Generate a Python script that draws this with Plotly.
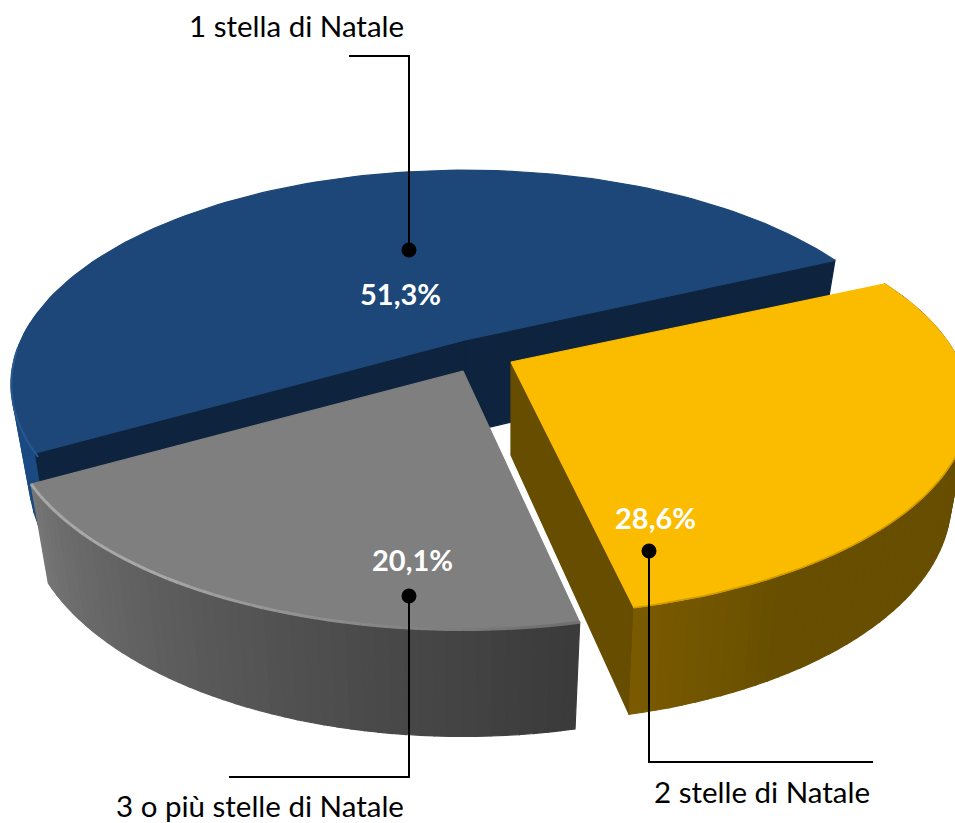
import math
import plotly.graph_objects as go

categories = ["1 stella di Natale", "2 stelle di Natale", "3 o più stelle di Natale"]
values = [51.3, 28.6, 20.1]
value_labels = ["51,3%", "28,6%", "20,1%"]

FONT = "Lato, Carlito, sans-serif"
R, RK, P, H, Q = 453.0, 205.0, 0.207, 93.0, 0.96
START = 65.0
# apex x, apex y, horizontal scale, vertical scale of each exploded slice
VIEW = {"blue": (465, 340, 0.98, 1.0), "yellow": (511, 362, 0.99, 0.98), "grey": (463, 371, 0.985, 1.0)}


def top(ap, t):
    u, v = math.sin(math.radians(t)), -math.cos(math.radians(t))
    s = 1 / (1 - P * v)
    return ap[0] + R * ap[2] * u * s, ap[1] + RK * ap[3] * v * s


def bot(ap, t):
    u, v = math.sin(math.radians(t)), -math.cos(math.radians(t))
    s = 1 / (1 - P * v)
    return ap[0] + R * ap[2] * u * s * Q, ap[1] + RK * ap[3] * v * s * Q + H * s


def apex_bot(ap):
    return ap[0], ap[1] + H


def arange(a, b, step=1.5):
    n = max(2, int(abs(b - a) / step) + 1)
    return [a + (b - a) * i / (n - 1) for i in range(n)]


def mix(c1, c2, f):
    f = max(0.0, min(1.0, f))
    return "rgb(%d,%d,%d)" % tuple(round(x + (y - x) * f) for x, y in zip(c1, c2))


fig = go.Figure()


def poly(pts, color, line=1.2, name=None):
    xs = [p[0] for p in pts] + [pts[0][0]]
    ys = [p[1] for p in pts] + [pts[0][1]]
    fig.add_trace(go.Scatter(x=xs, y=ys, mode="lines", fill="toself", fillcolor=color,
                             line=dict(color=color, width=line), hoverinfo="skip",
                             name=name or "", showlegend=False))


def path(pts, color, width):
    fig.add_trace(go.Scatter(x=[p[0] for p in pts], y=[p[1] for p in pts], mode="lines",
                             line=dict(color=color, width=width), hoverinfo="skip", showlegend=False))


total = sum(values)
sweep = [v / total * 360 for v in values]
a0 = START                 # blue ends here going counter-clockwise
a1 = a0 + sweep[1]         # yellow a0..a1
a2 = a1 + sweep[2]         # grey a1..a2
a3 = a0 + 360              # blue a2..a3

# ---- blue slice
ap = VIEW["blue"]
ts = arange(a2, 275, 3)
for t0, t1 in zip(ts[:-1], ts[1:]):
    poly([top(ap, t0), top(ap, t1), bot(ap, t1), bot(ap, t0)], "#1b4a82")
poly([ap, top(ap, a0), bot(ap, a0), apex_bot(ap)], "#0e243e")
poly([ap, top(ap, a2), bot(ap, a2), apex_bot(ap)], "#0e243e")
poly([ap] + [top(ap, t) for t in arange(a2, a3)], "#1d4778", name=categories[0])
path([top(ap, t) for t in arange(a2 - 1, 268)], "#285890", 2)

# ---- grey slice
ap = VIEW["grey"]
ts = arange(a2, a1, 1.5)
for t0, t1 in zip(ts[:-1], ts[1:]):
    f = (a2 - t0) / (a2 - a1)
    c = mix((0x76, 0x76, 0x76), (0x3a, 0x3a, 0x3a), f ** 0.85)
    poly([top(ap, t0), top(ap, t1), bot(ap, t1), bot(ap, t0)], c)
poly([ap] + [top(ap, t) for t in arange(a1, a2)], "#7f7f7f", name=categories[2])
for t0, t1 in zip(ts[:-1], ts[1:]):
    f = (a2 - t0) / (a2 - a1)
    path([top(ap, t0), top(ap, t1)], mix((0xa8, 0xa8, 0xa8), (0x70, 0x70, 0x70), (f - 0.35) / 0.6), 3)

# ---- yellow slice
ap = VIEW["yellow"]
a1y = a1 - 0.6  # slight fit of the perspective at the front corner
poly([ap, top(ap, a1y), bot(ap, a1y), apex_bot(ap)], "#664d00")
ts = arange(a1y, a0, 1.5)
for t0, t1 in zip(ts[:-1], ts[1:]):
    f = (a1y - t0) / (a1y - a0)
    poly([top(ap, t0), top(ap, t1), bot(ap, t1), bot(ap, t0)], mix((0x7a, 0x5a, 0x00), (0x67, 0x4e, 0x00), f * 6))
poly([ap] + [top(ap, t) for t in arange(a0, a1y)], "#fbbc00", name=categories[1])
path([top(ap, t) for t in arange(a0 + 25, a1y)], "#cf9a00", 1.5)

# ---- leader lines and dots
LC = "#000000"
leaders = [
    "M349,56 L409,56 L409,250",
    "M649,551 L649,762 L873,762",
    "M409,596 L409,777 L229,777",
]
dots = [(409, 250), (649, 551), (409, 596)]
shapes = [dict(type="path", path=p, xref="x", yref="y", line=dict(color=LC, width=2)) for p in leaders]
shapes += [dict(type="circle", xref="x", yref="y", x0=x - 7.5, x1=x + 7.5, y0=y - 7.5, y1=y + 7.5,
                fillcolor=LC, line=dict(color=LC, width=0)) for x, y in dots]

label_pos = [(296, 25), (762, 791), (260, 805)]
value_pos = [(400, 293), (655, 517), (412, 559)]
annotations = []
for name, (x, y) in zip(categories, label_pos):
    annotations.append(dict(x=x, y=y, xref="x", yref="y", text=name, showarrow=False,
                            font=dict(family=FONT, size=29.5, color="#000000")))
for txt, (x, y) in zip(value_labels, value_pos):
    annotations.append(dict(x=x, y=y, xref="x", yref="y", text="<b>%s</b>" % txt, showarrow=False,
                            font=dict(family=FONT, size=29, color="#ffffff")))

fig.update_layout(
    width=955, height=823, margin=dict(l=0, r=0, t=0, b=0),
    paper_bgcolor="#ffffff", plot_bgcolor="#ffffff", showlegend=False,
    xaxis=dict(range=[0, 955], visible=False, fixedrange=True),
    yaxis=dict(range=[823, 0], visible=False, fixedrange=True),
    shapes=shapes, annotations=annotations,
)
fig.write_html("out.html", config={"displayModeBar": False},
               post_script="document.body.style.margin='0';document.body.style.overflow='hidden';")
